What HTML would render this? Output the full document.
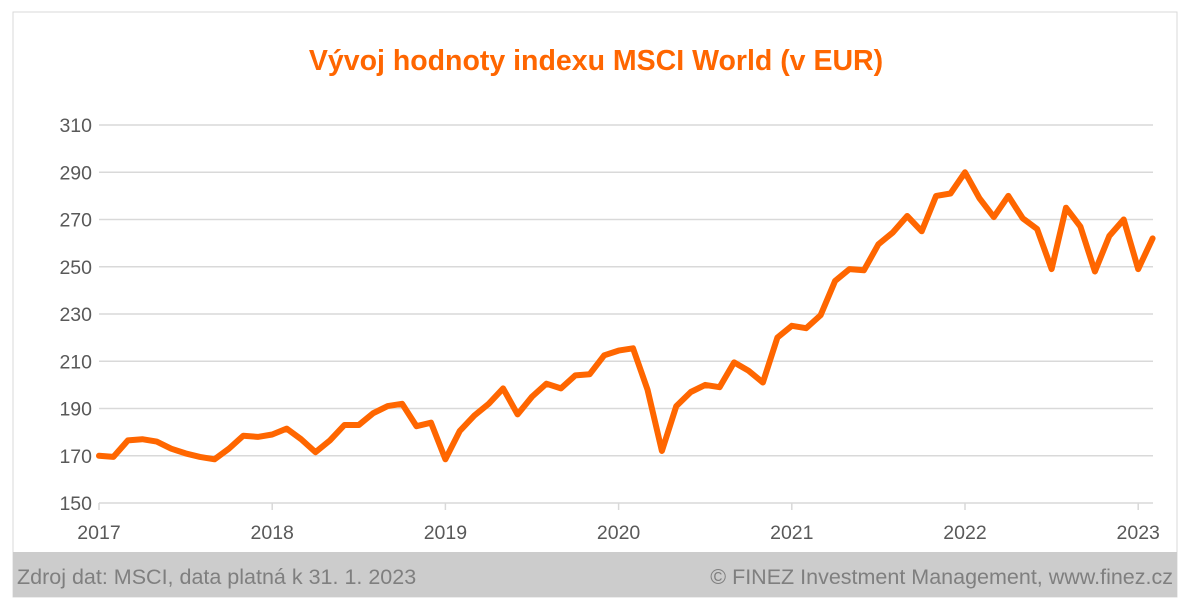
<!DOCTYPE html>
<html><head><meta charset="utf-8"><style>
body{margin:0;background:#fff;width:1190px;height:609px;overflow:hidden;font-family:"Liberation Sans",sans-serif}
</style></head><body>
<svg width="1190" height="609" xmlns="http://www.w3.org/2000/svg" font-family="Liberation Sans, sans-serif">
<rect x="13" y="12" width="1164" height="585" fill="#fff" stroke="#d9d9d9"/>
<rect x="13" y="552" width="1164" height="45" fill="#cccccc"/>
<text x="596" y="70" text-anchor="middle" font-size="28.5" font-weight="bold" fill="#ff6600">Vývoj hodnoty indexu MSCI World (v EUR)</text>
<g id="grid" stroke="#d9d9d9" stroke-width="1.5"></g>
<g id="lab" font-size="19.5" fill="#595959"></g>
<polyline id="ln" fill="none" stroke="#ff6600" stroke-width="6" stroke-linejoin="round" stroke-linecap="round"/>
<text x="17" y="584" font-size="21.5" fill="#7f7f7f">Zdroj dat: MSCI, data platná k 31. 1. 2023</text>
<text x="1173" y="584" text-anchor="end" font-size="21.5" fill="#7f7f7f">© FINEZ Investment Management, www.finez.cz</text>
</svg>
<script>
var ns="http://www.w3.org/2000/svg",g=document.getElementById('grid'),l=document.getElementById('lab');
function el(p,t,a,x){var e=document.createElementNS(ns,t);for(var k in a)e.setAttribute(k,a[k]);if(x)e.textContent=x;p.appendChild(e);}
function Y(v){return 503-(v-150)*2.3625;}
for(var v=150;v<=310;v+=20){el(g,'line',{x1:99,x2:1153,y1:Y(v),y2:Y(v)});el(l,'text',{x:92,y:Y(v)+7,'text-anchor':'end'},v);}
for(var i=0;i<=6;i++){var x=99+i*173.2;el(g,'line',{x1:x,x2:x,y1:503,y2:510});el(l,'text',{x:x,y:539,'text-anchor':'middle'},2017+i);}
var d=[170,169.5,176.5,177,176,173,171,169.5,168.5,173,178.5,178,179,181.5,177,171.5,176.5,183,183,188,191,192,182.5,184,168.5,180.5,187,192,198.5,187.5,195,200.5,198.5,204,204.5,212.5,214.5,215.5,198,172,191,197,200,199,209.5,206,201,220,225,224,229.5,244,249,248.5,259.5,264.5,271.5,265,280,281,290,279,271,280,270.5,266,249,275,267,248,263,270,249,262];
document.getElementById('ln').setAttribute('points',d.map(function(v,i){return (99+i*14.433).toFixed(1)+','+Y(v).toFixed(1)}).join(' '));
</script>
</body></html>
